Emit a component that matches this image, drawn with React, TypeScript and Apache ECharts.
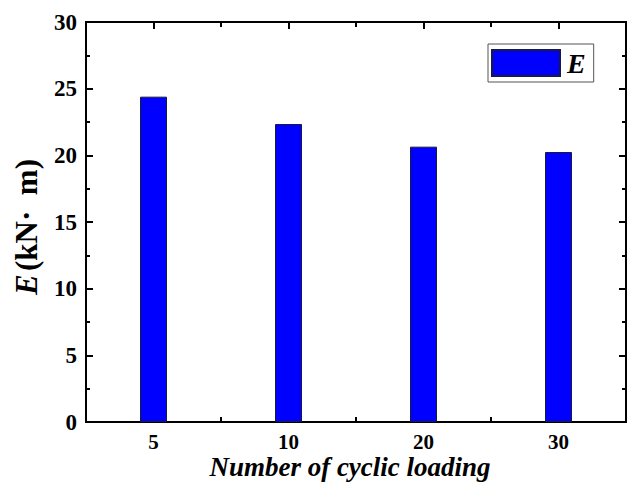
import React, { useEffect, useRef } from "react";
import * as echarts from "echarts";

const categories = ["5", "10", "20", "30"];
const energyValues = [24.4, 22.35, 20.65, 20.25];
const seriesName = "E";
const yTicks = { min: 0, max: 30, interval: 5 };

const FONT = "'Liberation Serif', 'Times New Roman', serif";

export default function App() {
  const ref = useRef<HTMLDivElement>(null);
  useEffect(() => {
    if (!ref.current) return;
    const chart = echarts.init(ref.current, undefined, { renderer: "svg" });
    const axisLine = { show: true, lineStyle: { color: "#000", width: 2 } };
    const hiddenLabel = { show: false };
    chart.setOption({
      animation: false,
      backgroundColor: "#fff",
      grid: { left: 86, right: 2, top: 22, bottom: 60 },
      legend: {
        data: [seriesName],
        left: 488,
        top: 44,
        orient: "horizontal",
        itemWidth: 68,
        itemHeight: 26,
        itemGap: 0,
        padding: [5, 8, 5, 3],
        borderColor: "#555",
        borderWidth: 1,
        textStyle: {
          fontFamily: FONT,
          fontSize: 28,
          fontWeight: "bold",
          fontStyle: "italic",
          color: "#000",
          padding: [0, 0, 0, 2],
        },
        icon: "rect",
      },
      xAxis: [
        {
          type: "category",
          data: categories,
          position: "bottom",
          axisLine,
          axisTick: { show: true, alignWithLabel: true, inside: true, length: 7, lineStyle: { color: "#000", width: 2 } },
          axisLabel: { fontFamily: FONT, fontSize: 21, fontWeight: "bold", color: "#000", margin: 9 },
          splitLine: { show: false },
        },
        {
          type: "category",
          data: categories,
          position: "bottom",
          axisLine,
          axisTick: { show: true, inside: true, length: 5, lineStyle: { color: "#000", width: 2 } },
          axisLabel: hiddenLabel,
          splitLine: { show: false },
        },
        {
          type: "category",
          data: categories,
          position: "top",
          axisLine,
          axisTick: { show: true, alignWithLabel: true, inside: true, length: 7, lineStyle: { color: "#000", width: 2 } },
          axisLabel: hiddenLabel,
          splitLine: { show: false },
        },
        {
          type: "category",
          data: categories,
          position: "top",
          axisLine,
          axisTick: { show: true, inside: true, length: 5, lineStyle: { color: "#000", width: 2 } },
          axisLabel: hiddenLabel,
          splitLine: { show: false },
        },
      ],
      yAxis: [
        {
          type: "value",
          position: "left",
          min: yTicks.min,
          max: yTicks.max,
          interval: yTicks.interval,
          axisLine,
          axisTick: { show: true, inside: true, length: 7, lineStyle: { color: "#000", width: 2 } },
          minorTick: { show: true, splitNumber: 2, length: 4, lineStyle: { color: "#000", width: 2 } },
          axisLabel: { fontFamily: FONT, fontSize: 23, fontWeight: "bold", color: "#000", margin: 9 },
          splitLine: { show: false },
        },
        {
          type: "value",
          position: "right",
          min: yTicks.min,
          max: yTicks.max,
          interval: yTicks.interval,
          axisLine,
          axisTick: { show: true, inside: true, length: 7, lineStyle: { color: "#000", width: 2 } },
          minorTick: { show: true, splitNumber: 2, length: 4, lineStyle: { color: "#000", width: 2 } },
          axisLabel: hiddenLabel,
          splitLine: { show: false },
        },
      ],
      series: [
        {
          name: seriesName,
          type: "bar",
          xAxisIndex: 0,
          yAxisIndex: 0,
          data: energyValues,
          barWidth: 27,
          itemStyle: { color: "#0000ff", borderColor: "#1a1a40", borderWidth: 1 },
        },
      ],
      graphic: [
        {
          type: "text",
          x: 26,
          y: 227,
          rotation: Math.PI / 2,
          style: {
            text: "{i|E} {n|(kN·  m)}",
            align: "center",
            verticalAlign: "middle",
            rich: {
              i: { fontFamily: FONT, fontSize: 31, fontWeight: "bold", fontStyle: "italic", fill: "#000" },
              n: { fontFamily: FONT, fontSize: 31, fontWeight: "bold", fill: "#000" },
            },
          },
        },
        {
          type: "text",
          x: 350,
          y: 467,
          style: {
            text: "Number of cyclic loading",
            align: "center",
            verticalAlign: "middle",
            fontFamily: FONT,
            fontSize: 27,
            fontWeight: "bold",
            fontStyle: "italic",
            fill: "#000",
          },
        },
      ],
    });
    return () => chart.dispose();
  }, []);
  return <div ref={ref} style={{ width: 628, height: 482, position: "absolute", left: 0, top: 0 }} />;
}
